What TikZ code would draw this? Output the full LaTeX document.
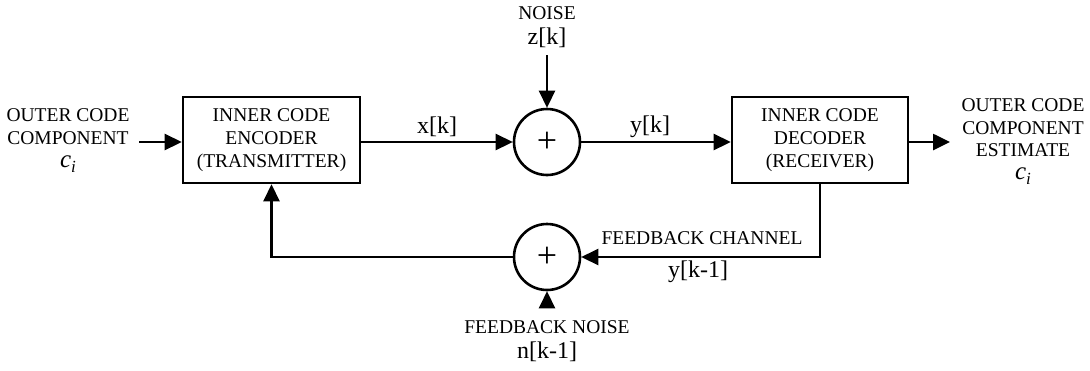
\documentclass[tikz,border=0pt]{standalone}
\usepackage{fontspec}
\setmainfont{Liberation Serif}
\usetikzlibrary{arrows.meta}
\begin{document}
\begin{tikzpicture}[x=1pt,y=-1pt,
  capsfont/.style={font=\fontsize{19.5}{23}\selectfont},
  sigfont/.style={font=\fontsize{24}{28}\selectfont},
  blockbox/.style={draw,line width=2.6pt,minimum width=177pt,minimum height=86pt,inner sep=0pt,align=center,capsfont},
  sumnode/.style={draw,circle,line width=2.6pt,minimum size=66pt,inner sep=0pt,font=\fontsize{36}{36}\selectfont},
  conn/.style={line width=2.6pt},
  arr/.style={conn,-{Triangle[length=17pt,width=16pt]}},
  txt/.style={inner sep=0pt,align=center}
]
\newcommand{\civar}{{\fontsize{25}{25}\selectfont\itshape c\raisebox{-0.22em}{\fontsize{17}{17}\selectfont i}}}
\useasboundingbox (0,0) rectangle (1090,370);

\node[blockbox] (enc) at (271.5,140) {INNER CODE\\ENCODER\\(TRANSMITTER)};
\node[blockbox,minimum width=176pt] (dec) at (820,140) {INNER CODE\\DECODER\\(RECEIVER)};
\node[sumnode] (s1) at (547,142) {+};
\node[sumnode] (s2) at (547,257) {+};

\node[txt,capsfont] (inlbl1) at (68,115) {OUTER CODE};
\node[txt,capsfont] (inlbl2) at (68,138) {COMPONENT};
\node[txt] (inlbl3) at (68,164) {\civar};
\coordinate (inpt) at (139,142);

\node[txt,capsfont] (outlbl1) at (1023,105) {OUTER CODE};
\node[txt,capsfont] (outlbl2) at (1023,128) {COMPONENT};
\node[txt,capsfont] (outlbl3) at (1023,150) {ESTIMATE};
\node[txt] (outlbl4) at (1023,176) {\civar};
\coordinate (outpt) at (950,142);

\node[txt,capsfont] (noiselbl) at (547,13) {NOISE};
\node[txt,sigfont] (zlbl) at (547,38) {z[k]};
\coordinate (noisept) at (547,55);

\node[txt,sigfont] (xlbl) at (437,127) {x[k]};
\node[txt,sigfont] (ylbl) at (650,127) {y[k]};

\node[txt,capsfont] (fbclbl) at (702,238) {FEEDBACK CHANNEL};
\node[txt,sigfont] (yk1lbl) at (698,272) {y[k-1]};

\node[txt,capsfont] (fbnlbl) at (547,327) {FEEDBACK NOISE};
\node[txt,sigfont] (nlbl) at (547,352) {n[k-1]};
\coordinate (fbnpt) at (547,306);

\draw[arr] (inpt) -- (inpt -| enc.west);
\draw[arr] (enc.east |- s1) -- (s1.west);
\draw[arr] (noisept) -- (s1.north);
\draw[arr] (s1.east) -- (s1 -| dec.west);
\draw[arr] (dec.east |- outpt) -- (outpt);
\draw[arr] (dec.south) |- (s2.east);
\draw[arr] (s2.west) -| (enc.south);
\draw[arr] (fbnpt) -- (s2.south);
\end{tikzpicture}
\end{document}
